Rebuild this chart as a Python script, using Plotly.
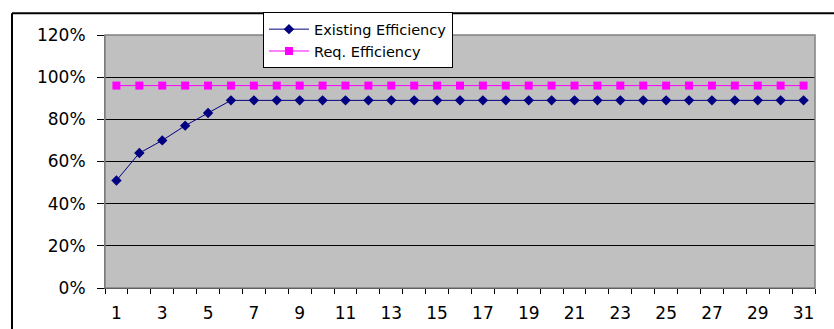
import plotly.graph_objects as go

# Day index and efficiency values (fractions)
days = list(range(1, 32))
existing_efficiency = [0.51, 0.64, 0.70, 0.77, 0.83] + [0.89] * 26
req_efficiency = [0.96] * 31
y_ticks = [0, 0.2, 0.4, 0.6, 0.8, 1.0, 1.2]
x_labels = list(range(1, 32, 2))

font_family = "DejaVu Sans, Liberation Sans, Arial, sans-serif"

fig = go.Figure()
fig.add_trace(go.Scatter(
    x=days, y=existing_efficiency, name="Existing Efficiency",
    mode="lines+markers",
    line=dict(color="#000080", width=1),
    marker=dict(symbol="diamond", size=8, color="#000080"),
))
fig.add_trace(go.Scatter(
    x=days, y=req_efficiency, name="Req. Efficiency",
    mode="lines+markers",
    line=dict(color="#FF00FF", width=1),
    marker=dict(symbol="square", size=8, color="#FF00FF"),
))

fig.update_layout(
    width=834, height=329,
    margin=dict(l=105, r=19, t=32, b=41),
    paper_bgcolor="white",
    plot_bgcolor="#C0C0C0",
    font=dict(family=font_family, size=17, color="black"),
    showlegend=True,
    legend=dict(
        x=0.2225, y=1.09, xanchor="left", yanchor="top",
        bgcolor="white", bordercolor="black", borderwidth=1,
        font=dict(size=14.5), tracegroupgap=0, itemwidth=40,
    ),
    xaxis=dict(
        range=[0.5, 31.5], tickmode="array", tickvals=x_labels,
        ticktext=[str(v) for v in x_labels], ticks="",
        ticklabelstandoff=10, automargin=False,
        showgrid=False, zeroline=False,
        showline=True, linecolor="black", linewidth=1,
        minor=dict(tick0=0.5, dtick=1, ticks="outside", ticklen=5,
                   tickcolor="black", showgrid=False),
    ),
    yaxis=dict(
        range=[0, 1.2], tickmode="array", tickvals=y_ticks,
        tickformat=".0%", ticks="outside", ticklen=7, tickcolor="black",
        ticklabelstandoff=8, automargin=False,
        showgrid=True, gridcolor="black", gridwidth=1, zeroline=False,
        showline=True, linecolor="#707070", linewidth=1,
    ),
    shapes=[
        # plot-area frame
        dict(type="rect", xref="paper", yref="paper", x0=0, x1=1, y0=0, y1=1,
             line=dict(color="#808080", width=1.5), layer="above"),
        # outer chart border (left and top edges)
        dict(type="line", xref="paper", yref="paper",
             x0=-0.131, x1=-0.131, y0=1.0859, y1=-0.2, line=dict(color="black", width=2)),
        dict(type="line", xref="paper", yref="paper",
             x0=-0.131, x1=1.03, y0=1.0859, y1=1.0859, line=dict(color="black", width=2)),
    ],
)

fig.write_html("out.html")
